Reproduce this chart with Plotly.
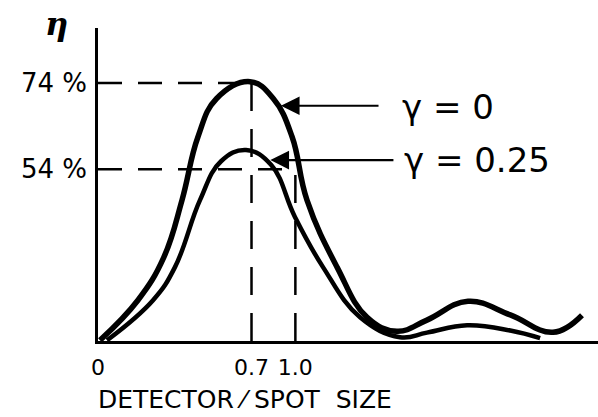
import plotly.graph_objects as go

# --- data ---
x_g0 = [0.009, 0.182, 0.300, 0.383, 0.456, 0.540, 0.693, 0.800, 0.885, 0.953,
        1.090, 1.227, 1.363, 1.500, 1.687, 1.880, 2.075, 2.207]
y_g0 = [0.2, 11.7, 24.0, 40.4, 58.6, 69.5, 74.4, 69.5, 58.6, 40.4,
        21.2, 6.8, 2.8, 6.0, 11.4, 7.5, 2.5, 7.4]
x_g025 = [0.041, 0.251, 0.351, 0.465, 0.560, 0.675, 0.790, 0.898,
          1.026, 1.195, 1.377, 1.500, 1.683, 1.880, 2.016]
y_g025 = [0.2, 11.7, 21.2, 40.4, 51.5, 54.8, 50.5, 35.6,
          21.2, 6.8, 1.1, 2.4, 4.5, 3.0, 0.8]

x_tick_pos = [0, 0.7, 0.9]
x_tick_text = ["0", "0.7", "1.0"]
y_tick_pos = [74, 49.3]
y_tick_text = ["74 %", "54 %"]

label_g0 = "\u03b3 = 0"
label_g025 = "\u03b3 = 0.25"
x_title = "DETECTOR \u2044 SPOT  SIZE"
y_title = "\u03b7"

FONT = "DejaVu Sans"

fig = go.Figure()

# guide dashed lines
fig.add_trace(go.Scatter(x=[0, 0.7], y=[y_tick_pos[0], y_tick_pos[0]], mode="lines",
                         line=dict(color="black", width=2.5, dash="24px,16px"), hoverinfo="skip"))
fig.add_trace(go.Scatter(x=[0, 0.9], y=[y_tick_pos[1], y_tick_pos[1]], mode="lines",
                         line=dict(color="black", width=2.5, dash="24px,16px"), hoverinfo="skip"))
fig.add_trace(go.Scatter(x=[0.7, 0.7], y=[0, y_tick_pos[0]], mode="lines",
                         line=dict(color="black", width=2.5, dash="28px,18px"), hoverinfo="skip"))
fig.add_trace(go.Scatter(x=[0.9, 0.9], y=[0, y_tick_pos[1]], mode="lines",
                         line=dict(color="black", width=2.5, dash="28px,18px"), hoverinfo="skip"))

# curves
fig.add_trace(go.Scatter(x=x_g0, y=y_g0, mode="lines", name=label_g0,
                         line=dict(color="black", width=5.5, shape="spline", smoothing=1.2)))
fig.add_trace(go.Scatter(x=x_g025, y=y_g025, mode="lines", name=label_g025,
                         line=dict(color="black", width=4.5, shape="spline", smoothing=1.2)))

# arrows
fig.add_annotation(x=0.834, y=67.5, ax=1.286, ay=67.5, axref="x", ayref="y", xref="x", yref="y",
                   text="", showarrow=True, arrowhead=2, arrowsize=1.7, arrowwidth=2.2,
                   arrowcolor="black")
fig.add_annotation(x=0.786, y=51.9, ax=1.354, ay=51.9, axref="x", ayref="y", xref="x", yref="y",
                   text="", showarrow=True, arrowhead=2, arrowsize=1.7, arrowwidth=2.2,
                   arrowcolor="black")

# curve labels
fig.add_annotation(x=1.377, y=67.1, xref="x", yref="y", text=label_g0, showarrow=False,
                   xanchor="left", yanchor="middle", font=dict(family=FONT, size=34, color="black"))
fig.add_annotation(x=1.386, y=51.9, xref="x", yref="y", text=label_g025, showarrow=False,
                   xanchor="left", yanchor="middle", font=dict(family=FONT, size=34, color="black"))

# axis titles
fig.add_annotation(x=-0.004, y=-0.188, xref="paper", yref="paper", text=x_title, showarrow=False,
                   xanchor="left", yanchor="middle", font=dict(family=FONT, size=25, color="black"))
fig.add_annotation(x=-0.084, y=1.012, xref="paper", yref="paper", text="<b><i>" + y_title + "</i></b>",
                   showarrow=False, xanchor="center", yanchor="middle",
                   font=dict(family="DejaVu Serif", size=32, color="black"))

fig.update_layout(
    width=598, height=417,
    margin=dict(l=98, r=0, t=28, b=76, autoexpand=False),
    paper_bgcolor="white", plot_bgcolor="white",
    showlegend=False,
    xaxis=dict(range=[0, 2.28], showgrid=False, zeroline=False, showline=True,
               linecolor="black", linewidth=2.5, tickvals=x_tick_pos, ticktext=x_tick_text,
               ticks="", ticklabelstandoff=5,
               tickfont=dict(family=FONT, size=22, color="black")),
    yaxis=dict(range=[0, 89.8], showgrid=False, zeroline=False, showline=True,
               linecolor="black", linewidth=2.5, tickvals=y_tick_pos, ticktext=y_tick_text,
               ticks="", ticklabelstandoff=3,
               tickfont=dict(family=FONT, size=26, color="black")),
)

fig.write_html("out.html", config={"displayModeBar": False},
               post_script="document.body.style.margin='0';document.body.style.overflow='hidden';")
